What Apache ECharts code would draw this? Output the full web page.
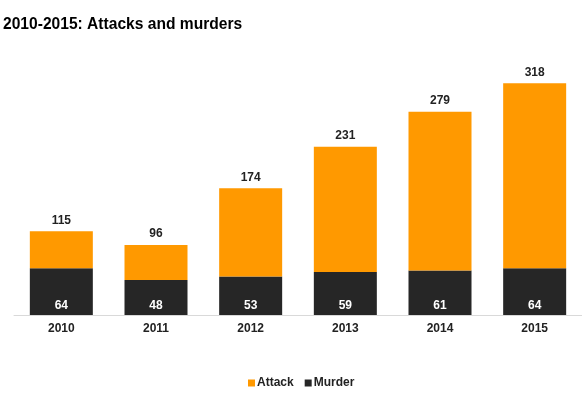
<!DOCTYPE html>
<html><head><meta charset="utf-8">
<script src="https://cdn.jsdelivr.net/npm/echarts@6/dist/echarts.min.js"></script>
<style>html,body{margin:0;padding:0;background:#fff}#c{width:582px;height:393px}</style>
</head><body><div id="c"></div>
<script>
const categories = ['2010','2011','2012','2013','2014','2015'];
const totals = [115, 96, 174, 231, 279, 318];
const murders = [64, 48, 53, 59, 61, 64];
const attacks = totals.map((t, i) => t - murders[i]);

const chart = echarts.init(document.getElementById('c'));
const font = '"Liberation Sans", Arial, sans-serif';
chart.setOption({
  animation: false,
  textStyle: { fontFamily: font },
  title: {
    text: '2010-2015: Attacks and murders',
    left: 3, top: 17, padding: 0,
    textStyle: { fontFamily: font, fontSize: 15.6, fontWeight: 'bold', color: '#000' }
  },
  legend: {
    left: 243, top: 372,
    itemWidth: 7, itemHeight: 7, itemGap: 11,
    icon: 'rect',
    textStyle: { fontFamily: font, fontSize: 12, fontWeight: 'bold', color: '#222', padding: [0,0,0,-3] },
    data: ['Attack', 'Murder']
  },
  grid: { left: 14, width: 570, top: 60, height: 255 },
  xAxis: {
    type: 'category', data: categories,
    axisLine: { lineStyle: { color: '#d9d9d9', width: 1 } },
    axisTick: { show: false },
    axisLabel: { fontFamily: font, fontSize: 12, fontWeight: 'bold', color: '#222', margin: 8 }
  },
  yAxis: { type: 'value', min: 0, max: 350, show: false, splitLine: { show: false } },
  series: [
    {
      name: 'Murder', type: 'bar', stack: 'a', data: murders, barWidth: 63,
      itemStyle: { color: '#262626' },
      label: { show: true, position: 'insideBottom', distance: 3, color: '#fff',
        fontFamily: font, fontSize: 12, fontWeight: 'bold' }
    },
    {
      name: 'Attack', type: 'bar', stack: 'a', data: attacks, barWidth: 63,
      itemStyle: { color: '#FF9900' },
      label: { show: true, position: 'top', distance: 5, color: '#222',
        fontFamily: font, fontSize: 12, fontWeight: 'bold',
        formatter: p => totals[p.dataIndex] }
    }
  ]
});
</script></body></html>
